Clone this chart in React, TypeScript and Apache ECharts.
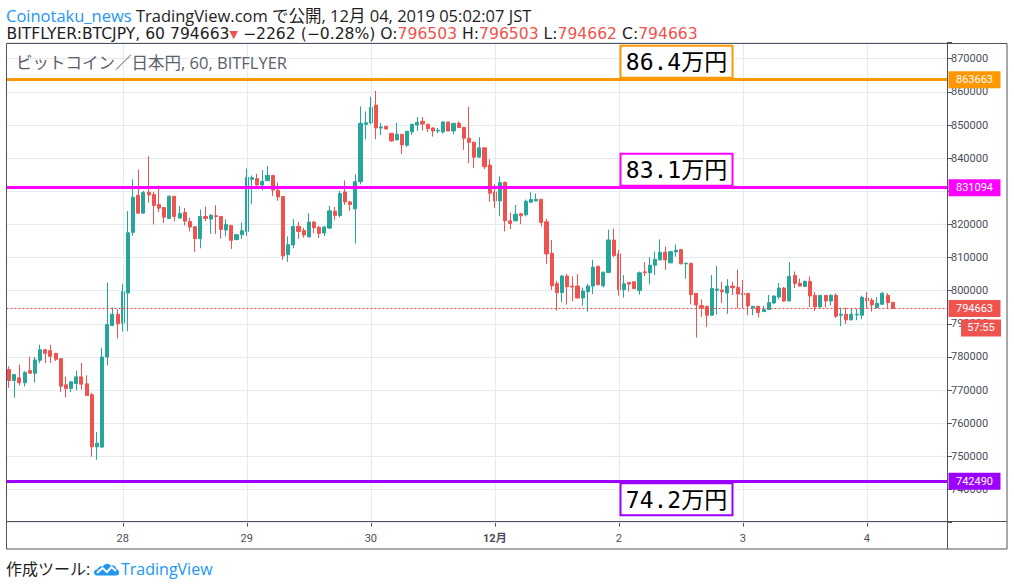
import React, { useEffect, useRef } from "react";
import * as echarts from "echarts";

// ---- candles per day: [open, close, low, high], hourly (JST) ----
const nov27: number[][] = [
  [776200, 772900, 770700, 777200], [772900, 774700, 767700, 774700], [773700, 772200, 771400, 777700],
  [772200, 775300, 771100, 775700], [775900, 775100, 775100, 780100], [775100, 779100, 772300, 780000],
  [779000, 782200, 778100, 783700], [782200, 781100, 778200, 782300], [781900, 780200, 778200, 783700],
  [781100, 779300, 778800, 781200], [779500, 771200, 769400, 779600], [771600, 770500, 767800, 774100],
  [770500, 772500, 769400, 772600], [772000, 774000, 769900, 775900], [774000, 771800, 770200, 778200],
  [771900, 768400, 768300, 774500], [768600, 752900, 749900, 769200], [752900, 754000, 749000, 757400],
  [752800, 780000, 752700, 782800], [780000, 789800, 777500, 802400], [789500, 792900, 789300, 794900],
  [792900, 790000, 785600, 794400],
];
const nov28: number[][] = [
  [790200, 799700, 787700, 802100], [799300, 817500, 787800, 824000], [817600, 828200, 816600, 833600],
  [828800, 823400, 823400, 836600], [823400, 829600, 823400, 830100], [829700, 828900, 826600, 840600],
  [829000, 825700, 820000, 829800], [826000, 824900, 823700, 831800], [825100, 822200, 820400, 825200],
  [821800, 828500, 821800, 828800], [828500, 822400, 821000, 828500], [821900, 823300, 821900, 825500],
  [823600, 821000, 819700, 825000], [820900, 819200, 817900, 822000], [819300, 815700, 811700, 819400],
  [815700, 822400, 812800, 824500], [822400, 821800, 821000, 825400], [821600, 822800, 817200, 823000],
  [822600, 822400, 817100, 825800], [822400, 818500, 815700, 822500], [818300, 820000, 816400, 821500],
  [819700, 815200, 812600, 819800], [815400, 816900, 815300, 817000], [816900, 818100, 815600, 820600],
];
const nov29: number[][] = [
  [817900, 834200, 816600, 836900], [833600, 834100, 826100, 834800], [833800, 831900, 831500, 835300],
  [831900, 833000, 830300, 836400], [833200, 834800, 833100, 837600], [834800, 830400, 828600, 834900],
  [830300, 828300, 827100, 832600], [828400, 810500, 809300, 828500], [810900, 813900, 808700, 816400],
  [813800, 819400, 812800, 821600], [819400, 817900, 815600, 820800], [818200, 816800, 816000, 819000],
  [816200, 820700, 816200, 823400], [820700, 819000, 817300, 821100], [819100, 817300, 815900, 819600],
  [817400, 819200, 816500, 819600], [818900, 824100, 818600, 825600], [824000, 822700, 821400, 825300],
  [822700, 829300, 822100, 830100], [829800, 826800, 825900, 833300], [826800, 826000, 824100, 827100],
  [824700, 832900, 814200, 835100], [832900, 850500, 832100, 855600], [850200, 850700, 845700, 854100],
];
const nov30: number[][] = [
  [850600, 855300, 850200, 858500], [856000, 849100, 845700, 860300], [849100, 849400, 847000, 850600],
  [849600, 848800, 848700, 849700], [847500, 845200, 844900, 847600], [845500, 847200, 845400, 850700],
  [847200, 844000, 841200, 847300], [843900, 848100, 843400, 848200], [847900, 850200, 847000, 850400],
  [850000, 850800, 848200, 852400], [851100, 850300, 848300, 852400], [850200, 848900, 847900, 850400],
  [849100, 848200, 846500, 849300], [848200, 848400, 847500, 849100], [847900, 850900, 847400, 851200],
  [850900, 848200, 848100, 851000], [848200, 850500, 847200, 850600], [850500, 849200, 849100, 851100],
  [849300, 846000, 842500, 849400], [846000, 844800, 838500, 855500], [844800, 840300, 837000, 845000],
  [840300, 843100, 840200, 846300], [843100, 837400, 836700, 843200], [837900, 829400, 826800, 839700],
];
const dec01: number[][] = [
  [829800, 827100, 824900, 832100], [827100, 832600, 822500, 834500], [832700, 821100, 817900, 832900],
  [821100, 820300, 818600, 823500], [821100, 823100, 820900, 825900], [823200, 822600, 820100, 823500],
  [822900, 827000, 822400, 827500], [826700, 827500, 826500, 829700], [827100, 827600, 826900, 829300],
  [827600, 820600, 819400, 827700], [820800, 811100, 808000, 821700], [811300, 801500, 800200, 815300],
  [802200, 799400, 794000, 803000], [799400, 804400, 796500, 804800], [804400, 801200, 795800, 805000],
  [801400, 801100, 796800, 804300], [801400, 797800, 797700, 805000], [797800, 799900, 795500, 800900],
  [799700, 801400, 793700, 802100], [801400, 807100, 799000, 809300], [807400, 801800, 801600, 807500],
  [801500, 805600, 801000, 805700], [805500, 815300, 805400, 818400], [815300, 810600, 810100, 818700],
];
const dec02: number[][] = [
  [811100, 800300, 798500, 812300], [800300, 802100, 797900, 804700], [802500, 802000, 799800, 802600],
  [802700, 800600, 800500, 802800], [800100, 805400, 798800, 805800], [805700, 805400, 804400, 808600],
  [805400, 807700, 801900, 810100], [807700, 809400, 804700, 811800], [809300, 811600, 809200, 815500],
  [811600, 809300, 806300, 813300], [808400, 811800, 808300, 811900], [811700, 812200, 810300, 814000],
  [812400, 808100, 808000, 812500], [808100, 808300, 803600, 808400], [808300, 798800, 795900, 808400],
  [799200, 795700, 785900, 799300], [795500, 794900, 792100, 797400], [795300, 792600, 789100, 795400],
  [792600, 800700, 792500, 804700], [800100, 800500, 792800, 807500], [800200, 799700, 796300, 802700],
  [799300, 801400, 793000, 803500], [801400, 800900, 798700, 802700], [801000, 799000, 794700, 806300],
];
const dec03: number[][] = [
  [799200, 798800, 794700, 803200], [799200, 795400, 792600, 799300], [794800, 795300, 792600, 795400],
  [795300, 793400, 791900, 795400], [793700, 794400, 793600, 795400], [794300, 796400, 794200, 798700],
  [796300, 798400, 795900, 798500], [798100, 800800, 797400, 802300], [800800, 796900, 796600, 801100],
  [796900, 804300, 796800, 808600], [804600, 802200, 800800, 805800], [802200, 801400, 801300, 803700],
  [801300, 802800, 801200, 803100], [802800, 798400, 795100, 804300], [798600, 795100, 793900, 799600],
  [795100, 798600, 795000, 798700], [798600, 796900, 794900, 798700], [796900, 798600, 795600, 798900],
  [798600, 792300, 791800, 799200], [792600, 792900, 789300, 794900], [792900, 791200, 789900, 794900],
  [791200, 792900, 791100, 794600], [792700, 792900, 791100, 794500], [792600, 798000, 791400, 798500],
];
const dec04: number[][] = [
  [797800, 796900, 794600, 799600], [797100, 795700, 793700, 797800], [794900, 796200, 794800, 798100],
  [795900, 799200, 795800, 799600], [798600, 796400, 794600, 799300], [796503, 794663, 794662, 796503],
];

// day key, first hour, candles
const dayBlocks: [string, number, number[][]][] = [
  ["11/27", 2, nov27], ["11/28", 0, nov28], ["11/29", 0, nov29], ["11/30", 0, nov30],
  ["12/01", 0, dec01], ["12/02", 0, dec02], ["12/03", 0, dec03], ["12/04", 0, dec04],
];
const emptySlots = 10;

// price levels drawn on the chart
const levelValues = [863663, 831094, 742490];
const levelColors = ["#ff9800", "#ff00ff", "#9c00ff"];
const levelNotes = ["86.4万円", "83.1万円", "74.2万円"];
const lastPrice = 794663;
const countdown = "57:55";
// axis labels fully hidden under a price tag in the original
const hiddenTicks = [830000];

// header texts
const author = "Coinotaku_news";
const published = " TradingView.com で公開, 12月 04, 2019 05:02:07 JST";
const symbolText = "BITFLYER:BTCJPY, 60 794663";
const changeText = " −2262 (−0.28%)";
const ohlcLabels = ["O", "H", "L", "C"];
const ohlcValues = ["796503", "796503", "794662", "794663"];
const paneTitle = "ビットコイン／日本円, 60, BITFLYER";

const FONT = "'Open Sans', 'Noto Sans CJK JP', sans-serif";
const FONT2 = "'DejaVu Sans', 'Noto Sans CJK JP', sans-serif";
const AXIS_FONT = "Roboto, 'Noto Sans CJK JP', sans-serif";
const UP = "#26a69a";
const DOWN = "#ef5350";
const GRID = "#e3eaf0";
const FRAME = "#50535e";
const LABEL = "#4a4d57";

const logoPath =
  "M3 13 C1 13 0 11.5 0 10 C0 8 1.8 6.8 3.5 7.2 C4 4.5 6.5 3 9 4 C10.5 1 14.5 0.4 16.5 3 C18.7 2 22 3.2 22.5 6.5 C24.5 7 25.5 9 25 11 C24.7 12.3 23.5 13 22 13 Z";
echarts.graphic.registerShape("tvlogo", (echarts.graphic as any).extendPath(logoPath, {}));

function buildData() {
  const categories: string[] = [];
  const ohlc: any[] = [];
  dayBlocks.forEach(([day, start, bars]) => {
    bars.forEach((b, i) => {
      categories.push(`${day} ${String(start + i).padStart(2, "0")}:00`);
      ohlc.push(b);
    });
  });
  for (let k = 0; k < emptySlots; k++) {
    categories.push(`empty-${k}`);
    ohlc.push("-");
  }
  return { categories, ohlc };
}

const isDayStart = (_i: number, v: string) => typeof v === "string" && v.endsWith(" 00:00");

export default function App() {
  const ref = useRef<HTMLDivElement>(null);

  useEffect(() => {
    if (!ref.current) return;
    const chart = echarts.init(ref.current, null, { renderer: "svg" });
    const { categories, ohlc } = buildData();
    const dayLines = categories.filter((c) => c.endsWith(" 00:00")).map((c) => ({ xAxis: c }));

    chart.setOption({
      animation: false,
      backgroundColor: "#ffffff",
      grid: { left: 6.5, right: 67, top: 42.15, bottom: 63.32 },
      xAxis: {
        type: "category",
        data: categories,
        boundaryGap: true,
        axisLine: { show: false },
        axisTick: {
          show: true,
          alignWithLabel: true,
          interval: isDayStart,
          length: 4,
          lineStyle: { color: FRAME },
        },
        axisLabel: {
          interval: isDayStart,
          color: LABEL,
          fontSize: 11,
          fontFamily: AXIS_FONT,
          margin: 10,
          formatter: (v: string) => {
            const [md] = v.split(" ");
            const [m, d] = md.split("/");
            if (d === "01") return `{b|${Number(m)}月}`;
            return String(Number(d));
          },
          rich: { b: { fontWeight: "bold", fontSize: 11, color: LABEL, fontFamily: AXIS_FONT } },
        },
        splitLine: { show: false },
      },
      yAxis: {
        type: "value",
        position: "right",
        min: 730000,
        max: 875000,
        interval: 10000,
        axisLine: { show: false },
        axisTick: { show: true, length: 5, lineStyle: { color: FRAME } },
        axisLabel: {
          color: LABEL,
          fontSize: 11,
          fontFamily: AXIS_FONT,
          margin: 4,
          formatter: (v: number) =>
            v >= 740000 && v <= 870000 && v % 10000 === 0 && !hiddenTicks.includes(v) ? String(v) : "",
        },
        splitLine: { lineStyle: { color: GRID, width: 1 } },
      },
      series: [
        {
          type: "line",
          data: [],
          z: 1,
          markLine: {
            silent: true,
            symbol: ["none", "none"],
            label: { show: false },
            lineStyle: { color: GRID, width: 1, type: "solid" },
            data: dayLines,
          },
        },
        {
          type: "candlestick",
          data: ohlc,
          barWidth: 3.6,
          z: 2,
          itemStyle: {
            color: UP,
            color0: DOWN,
            borderColor: UP,
            borderColor0: DOWN,
            borderWidth: 1,
          },
        },
        {
          type: "line",
          data: [],
          z: 5,
          markLine: {
            silent: true,
            symbol: ["none", "none"],
            label: { show: false },
            data: [
              ...levelValues.map((v, i) => ({
                yAxis: v,
                lineStyle: { color: levelColors[i], width: 3, type: "solid" },
              })),
              { yAxis: lastPrice, lineStyle: { color: "#e8423f", width: 1, type: [2, 2] } },
            ],
          },
        },
      ],
    });

    const py = (v: number) => chart.convertToPixel({ yAxisIndex: 0 }, v) as number;
    const g: any[] = [];

    // annotation boxes
    levelValues.forEach((v, i) => {
      const y = py(v);
      const above = i < 2;
      const top = above ? y - 34 : y + 2;
      g.push({
        type: "rect",
        z: 100,
        shape: { x: 620.5, y: top, width: 112, height: 32 },
        style: { fill: "#ffffff", stroke: levelColors[i], lineWidth: 2 },
      });
      g.push({
        type: "text",
        z: 101,
        x: 676.5,
        y: top + 16.5,
        style: {
          text: levelNotes[i],
          fill: "#000000",
          fontSize: 23,
          fontFamily: "'DejaVu Sans Mono', 'Noto Sans CJK JP', monospace",
          align: "center",
          verticalAlign: "middle",
        },
      });
    });

    // price tags on the axis
    const tags = [...levelValues.map((v, i) => [v, levelColors[i]]), [lastPrice, DOWN]] as [number, string][];
    tags.forEach(([v, c]) => {
      const y = py(v);
      g.push({ type: "rect", z: 100, shape: { x: 948.5, y: y - 8.5, width: 52, height: 17 }, style: { fill: c } });
      g.push({
        type: "text",
        z: 101,
        x: 974.5,
        y: y,
        style: { text: String(v), fill: "#ffffff", fontSize: 11, fontFamily: AXIS_FONT, align: "center", verticalAlign: "middle" },
      });
    });
    const ly = py(lastPrice);
    g.push({ type: "rect", z: 100, shape: { x: 961, y: ly + 11, width: 40, height: 17 }, style: { fill: DOWN } });
    g.push({
      type: "text",
      z: 101,
      x: 981,
      y: ly + 19.5,
      style: { text: countdown, fill: "#ffffff", fontSize: 11, fontFamily: AXIS_FONT, align: "center", verticalAlign: "middle" },
    });

    // frame
    g.push({ type: "rect", z: 102, shape: { x: 6.5, y: 43.5, width: 1000.5, height: 505.5 }, style: { fill: "none", stroke: FRAME, lineWidth: 1 } });
    g.push({ type: "line", z: 102, shape: { x1: 947.5, y1: 43.5, x2: 947.5, y2: 549 }, style: { stroke: FRAME, lineWidth: 1 } });
    g.push({ type: "line", z: 102, shape: { x1: 6.5, y1: 521.5, x2: 1007, y2: 521.5 }, style: { stroke: FRAME, lineWidth: 1 } });

    // pane title
    g.push({
      type: "text",
      z: 101,
      x: 16,
      y: 62,
      style: { text: paneTitle, fill: "#5d606b", fontSize: 16.5, fontFamily: FONT, verticalAlign: "middle" },
    });

    // header
    g.push({
      type: "text",
      z: 101,
      x: 6,
      y: 15,
      style: {
        text: `{a|${author}}${published}`,
        fill: "#1e1e1e",
        fontSize: 16.5,
        fontFamily: FONT,
        verticalAlign: "middle",
        rich: { a: { fill: "#2196f3", fontSize: 16.5, fontFamily: FONT } },
      },
    });
    const ohlcPart = ohlcLabels.map((l, i) => ` ${l}:{v|${ohlcValues[i]}}`).join("");
    g.push({
      type: "text",
      z: 101,
      x: 6.5,
      y: 34,
      style: {
        text: `${symbolText}{t|▼}${changeText}${ohlcPart}`,
        fill: "#1e1e1e",
        fontSize: 15.6,
        fontFamily: FONT2,
        verticalAlign: "middle",
        rich: {
          v: { fill: DOWN, fontSize: 15.6, fontFamily: FONT2 },
          t: { fill: DOWN, fontSize: 11, fontFamily: "'DejaVu Sans', sans-serif" },
        },
      },
    });

    // footer
    g.push({
      type: "text",
      z: 101,
      x: 6,
      y: 569,
      style: { text: "作成ツール:", fill: "#1e1e1e", fontSize: 16, fontFamily: FONT, verticalAlign: "middle" },
    });
    g.push({ type: "tvlogo", z: 101, x: 94, y: 562.5, scaleX: 1, scaleY: 1, style: { fill: "#2196f3" } });
    g.push({
      type: "polyline",
      z: 102,
      shape: { points: [[97, 573], [102.5, 568], [107, 572], [111.5, 567], [116, 571]] },
      style: { stroke: "#ffffff", lineWidth: 2, fill: "none" },
    });
    g.push({
      type: "text",
      z: 101,
      x: 121,
      y: 569,
      style: { text: "TradingView", fill: "#2196f3", fontSize: 16, fontFamily: FONT, verticalAlign: "middle" },
    });

    chart.setOption({ graphic: g });
    return () => chart.dispose();
  }, []);

  return (
    <div
      ref={ref}
      style={{ position: "absolute", left: 0, top: 0, width: 1014, height: 586, background: "#ffffff" }}
    />
  );
}
